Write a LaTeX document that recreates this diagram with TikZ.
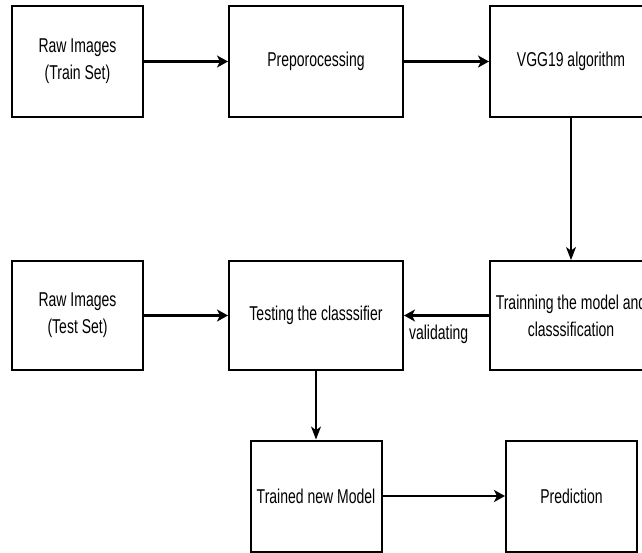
\documentclass[tikz,border=0pt]{standalone}
\usepackage{fontspec}
\setmainfont{Liberation Sans}[FakeStretch=0.7]
\usetikzlibrary{arrows.meta}

\begin{document}
\begin{tikzpicture}[x=0.5pt,y=-0.5pt,
    box/.style={draw, line width=1pt, inner sep=0pt, align=center,
      minimum height=55.5pt, font=\fontsize{10}{13.5}\selectfont},
    flow/.style={-{Stealth[length=5.5pt,width=6pt,inset=1.5pt]}, line width=1.1pt},
    down/.style={-{Stealth[length=6.5pt,width=5pt,inset=1.8pt]}, line width=0.6pt}]
    \clip (0,0) rectangle (642,552);
    \node[box, minimum width=65.5pt] (rawtrain) at (77.5,61.5) {Raw Images\\(Train Set)};
    \node[box, minimum width=87pt] (prep) at (316,61.5) {Preporocessing};
    \node[box, minimum width=81pt] (vgg) at (571,61.5) {VGG19 algorithm};
    \node[box, minimum width=65.5pt, minimum height=54.5pt] (rawtest) at (77.5,315.5) {Raw Images\\(Test Set)};
    \node[box, minimum width=87pt, minimum height=54.5pt] (test) at (316,315.5) {Testing the classsifier};
    \node[box, minimum width=81pt, minimum height=54.5pt] (train) at (571,315.5) {Trainning the model and\\classsification};
    \node[box, minimum width=65.5pt] (trained) at (316,496) {Trained new Model};
    \node[box, minimum width=65.5pt] (pred) at (571.5,496) {Prediction};
    \draw[flow] (rawtrain) -- (prep);
    \draw[flow] (prep) -- (vgg);
    \draw[down] (vgg) -- (train);
    \draw[flow] (rawtest) -- (test);
    \draw[flow] (train) -- (test) node[pos=1, anchor=north west, inner sep=2pt, yshift=-2pt,
      font=\fontsize{10}{13.5}\selectfont] {validating};
    \draw[down] (test) -- (trained);
    \draw[flow] (trained) -- (pred);
\end{tikzpicture}
\end{document}
